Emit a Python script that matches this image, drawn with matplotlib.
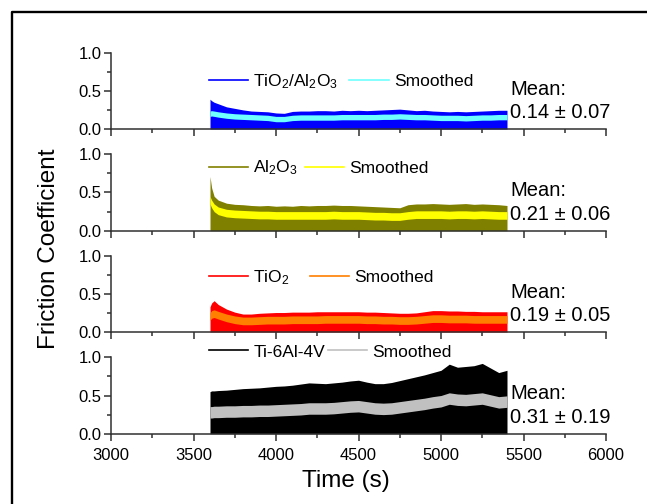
import matplotlib
matplotlib.use("Agg")
import matplotlib.pyplot as plt
from matplotlib.lines import Line2D
from matplotlib.ticker import MultipleLocator, FormatStrFormatter

plt.rcParams['font.family'] = ['Liberation Sans', 'DejaVu Sans']
plt.rcParams['mathtext.default'] = 'regular'

# time grid of the hand-read envelopes (s)
time = [3600, 3610, 3625, 3650, 3700, 3750, 3800, 3850, 3900, 3950,
        4000, 4050, 4100, 4150, 4200, 4250, 4300, 4350, 4400, 4450,
        4500, 4550, 4600, 4650, 4700, 4750, 4800, 4850, 4900, 4950,
        5000, 5050, 5100, 5150, 5200, 5250, 5300, 5350, 5400]

# TiO2/Al2O3 coating
tial_top = [0.39, 0.37, 0.35, 0.33, 0.29, 0.27, 0.25, 0.235, 0.23, 0.225,
            0.21, 0.205, 0.23, 0.235, 0.235, 0.24, 0.24, 0.235, 0.245, 0.24,
            0.245, 0.24, 0.245, 0.25, 0.255, 0.26, 0.25, 0.24, 0.245, 0.235,
            0.23, 0.225, 0.23, 0.225, 0.23, 0.235, 0.24, 0.245, 0.245]
tial_smooth = [0.20, 0.205, 0.20, 0.19, 0.175, 0.165, 0.16, 0.155, 0.15, 0.145,
               0.13, 0.13, 0.145, 0.15, 0.15, 0.15, 0.15, 0.15, 0.155, 0.155,
               0.155, 0.155, 0.155, 0.16, 0.16, 0.165, 0.16, 0.155, 0.155, 0.15,
               0.145, 0.145, 0.145, 0.14, 0.145, 0.15, 0.15, 0.155, 0.155]

# Al2O3 coating
al_top = [0.71, 0.56, 0.45, 0.40, 0.36, 0.345, 0.34, 0.33, 0.325, 0.33,
          0.32, 0.325, 0.32, 0.33, 0.325, 0.33, 0.33, 0.335, 0.33, 0.33,
          0.325, 0.32, 0.315, 0.31, 0.305, 0.30, 0.34, 0.35, 0.35, 0.355,
          0.35, 0.345, 0.35, 0.355, 0.345, 0.35, 0.345, 0.34, 0.33]
al_smooth = [0.40, 0.35, 0.30, 0.26, 0.23, 0.22, 0.215, 0.21, 0.205, 0.205,
             0.20, 0.20, 0.20, 0.20, 0.20, 0.20, 0.20, 0.205, 0.20, 0.20,
             0.20, 0.195, 0.19, 0.19, 0.185, 0.185, 0.20, 0.21, 0.21, 0.21,
             0.21, 0.205, 0.21, 0.21, 0.205, 0.21, 0.205, 0.20, 0.20]

# TiO2 coating
ti_top = [0.33, 0.38, 0.41, 0.36, 0.30, 0.26, 0.235, 0.235, 0.245, 0.25,
          0.255, 0.255, 0.26, 0.26, 0.26, 0.265, 0.265, 0.265, 0.265, 0.265,
          0.265, 0.26, 0.26, 0.255, 0.25, 0.245, 0.245, 0.25, 0.265, 0.28,
          0.28, 0.275, 0.275, 0.27, 0.27, 0.265, 0.265, 0.265, 0.265]
ti_smooth = [0.20, 0.23, 0.24, 0.22, 0.185, 0.16, 0.145, 0.145, 0.15, 0.155,
             0.155, 0.155, 0.16, 0.16, 0.16, 0.16, 0.165, 0.165, 0.165, 0.165,
             0.165, 0.16, 0.16, 0.155, 0.155, 0.15, 0.15, 0.155, 0.165, 0.175,
             0.175, 0.17, 0.17, 0.17, 0.165, 0.165, 0.165, 0.165, 0.165]

# bare Ti-6Al-4V
bare_top = [0.55, 0.56, 0.56, 0.565, 0.57, 0.58, 0.59, 0.595, 0.60, 0.61,
            0.62, 0.625, 0.635, 0.65, 0.665, 0.66, 0.655, 0.665, 0.675, 0.69,
            0.70, 0.675, 0.655, 0.655, 0.67, 0.695, 0.72, 0.745, 0.77, 0.80,
            0.83, 0.91, 0.87, 0.88, 0.89, 0.92, 0.86, 0.80, 0.83]
bare_smooth = [0.28, 0.28, 0.285, 0.285, 0.29, 0.29, 0.295, 0.295, 0.30, 0.30,
               0.305, 0.31, 0.315, 0.32, 0.33, 0.33, 0.33, 0.335, 0.345, 0.355,
               0.36, 0.345, 0.33, 0.325, 0.33, 0.345, 0.36, 0.375, 0.39, 0.41,
               0.425, 0.46, 0.445, 0.44, 0.45, 0.46, 0.435, 0.41, 0.42]

names = ['TiO$_2$/Al$_2$O$_3$', 'Al$_2$O$_3$', 'TiO$_2$', 'Ti-6Al-4V']
means = ['0.14 \u00b1 0.07', '0.21 \u00b1 0.06', '0.19 \u00b1 0.05', '0.31 \u00b1 0.19']
tops = [tial_top, al_top, ti_top, bare_top]
smooths = [tial_smooth, al_smooth, ti_smooth, bare_smooth]

raw_colors = ['#0000ff', '#808000', '#ff0000', '#000000']
smooth_colors = ['#70ffff', '#ffff00', '#ff8000', '#c0c0c0']
band = [0.035, 0.05, 0.05, 0.075]
legend_y = [0.62, 0.82, 0.71, 1.07]
col_space = [0.65, 0.4, 1.15, 0.15]

W, H = 647, 504
fig = plt.figure(figsize=(W / 100, H / 100), dpi=100)

# outer frame (only top and left edges fall inside the picture)
fig.add_artist(Line2D([11.5 / W, 11.5 / W, 1.0], [0.0, 1 - 12.3 / H, 1 - 12.3 / H],
                      transform=fig.transFigure, color='black', lw=1.7))

left = 111 / W
width = (606 - 111) / W
height = 76.4 / H
bottoms = [1 - 129 / H, 1 - 230.7 / H, 1 - 332 / H, 1 - 433.7 / H]

for i in range(4):
    ax = fig.add_axes([left, bottoms[i], width, height])
    lo = [s - band[i] for s in smooths[i]]
    hi = [s + band[i] for s in smooths[i]]
    ax.fill_between(time, 0, tops[i], color=raw_colors[i], lw=0)
    ax.fill_between(time, lo, hi, color=smooth_colors[i], lw=0)

    ax.set_xlim(3000, 6000)
    ax.set_ylim(0, 1.0)
    for side in ['top', 'right']:
        ax.spines[side].set_visible(False)
    for side in ['left', 'bottom']:
        ax.spines[side].set_linewidth(1.1)
        ax.spines[side].set_color('#303030')
    ax.xaxis.set_major_locator(MultipleLocator(500))
    ax.xaxis.set_minor_locator(MultipleLocator(250))
    ax.yaxis.set_major_locator(MultipleLocator(0.5))
    ax.yaxis.set_minor_locator(MultipleLocator(0.25))
    ax.yaxis.set_major_formatter(FormatStrFormatter('%.1f'))
    ax.tick_params(which='major', direction='out', length=5, width=1.1,
                   color='#303030', labelsize=12, pad=2)
    ax.tick_params(which='minor', direction='out', length=3, width=1.1,
                   color='#303030')
    ax.tick_params(axis='x', pad=5)
    if i < 3:
        ax.tick_params(axis='x', labelbottom=False)

    handles = [Line2D([], [], color=raw_colors[i], lw=1.2),
               Line2D([], [], color=smooth_colors[i], lw=1.2)]
    leg = ax.legend(handles, [names[i], 'Smoothed'], ncol=2, loc='center left',
                    bbox_to_anchor=(0.198, legend_y[i]), frameon=False,
                    fontsize=12.5, borderpad=0, borderaxespad=0,
                    handlelength=2.25, handletextpad=0.3,
                    columnspacing=col_space[i])
    leg.set_clip_on(False)

    ax.text(0.806, 0.52, 'Mean:', transform=ax.transAxes, fontsize=14.5,
            ha='left', va='center')
    ax.text(0.806, 0.21, means[i], transform=ax.transAxes, fontsize=14.5,
            ha='left', va='center')

fig.text(49 / W, 1 - 249 / H, 'Friction Coefficient', rotation=90,
         fontsize=17.5, ha='center', va='center')
fig.text(346 / W, 1 - 486.7 / H, 'Time (s)', fontsize=17.5,
         ha='center', va='baseline')

fig.savefig('out.png', dpi=100)
